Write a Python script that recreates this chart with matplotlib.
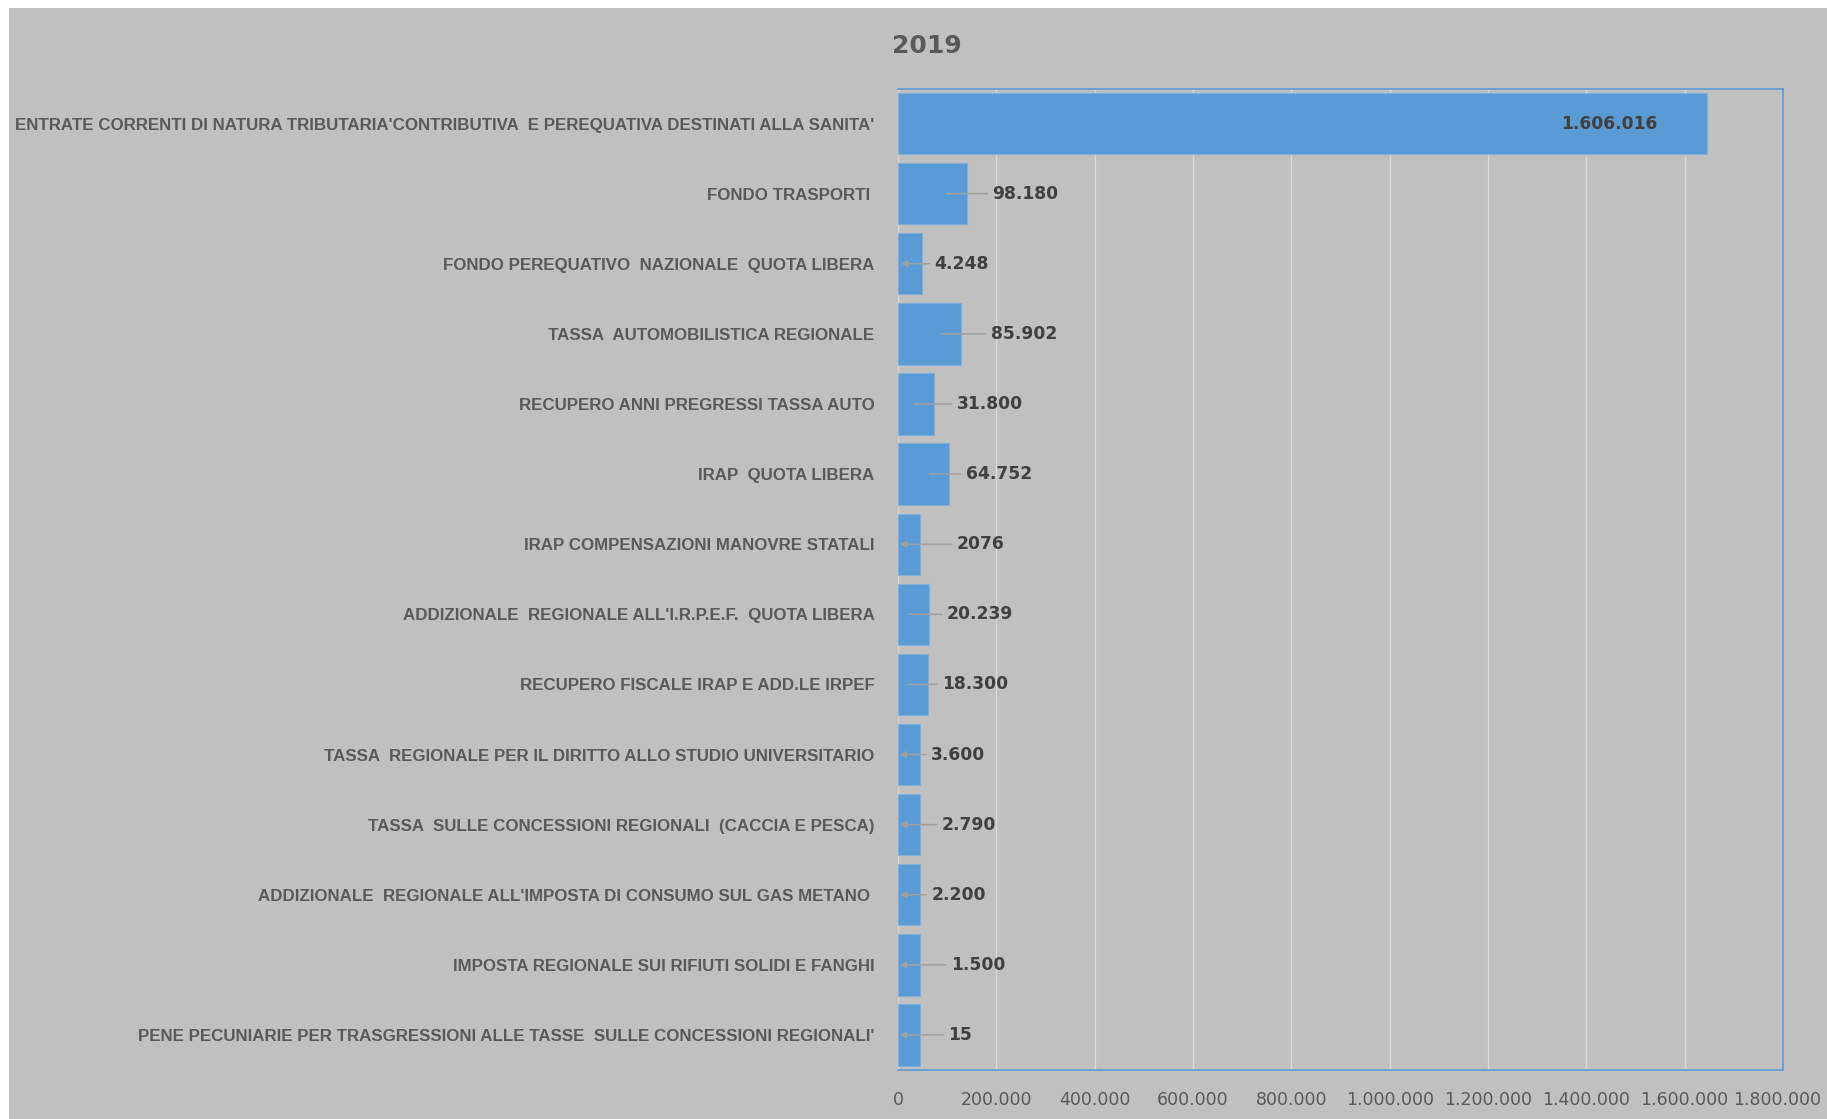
import numpy as np
import matplotlib; matplotlib.use("Agg")
import matplotlib.pyplot as plt
import matplotlib.transforms as mtransforms
from matplotlib.patches import Rectangle

# categorie (dall'alto verso il basso)
categorie = [
    "ENTRATE CORRENTI DI NATURA TRIBUTARIA'CONTRIBUTIVA  E PEREQUATIVA DESTINATI ALLA SANITA'",
    "FONDO TRASPORTI ",
    "FONDO PEREQUATIVO  NAZIONALE  QUOTA LIBERA",
    "TASSA  AUTOMOBILISTICA REGIONALE",
    "RECUPERO ANNI PREGRESSI TASSA AUTO",
    "IRAP  QUOTA LIBERA",
    "IRAP COMPENSAZIONI MANOVRE STATALI",
    "ADDIZIONALE  REGIONALE ALL'I.R.P.E.F.  QUOTA LIBERA",
    "RECUPERO FISCALE IRAP E ADD.LE IRPEF",
    "TASSA  REGIONALE PER IL DIRITTO ALLO STUDIO UNIVERSITARIO",
    "TASSA  SULLE CONCESSIONI REGIONALI  (CACCIA E PESCA)",
    "ADDIZIONALE  REGIONALE ALL'IMPOSTA DI CONSUMO SUL GAS METANO ",
    "IMPOSTA REGIONALE SUI RIFIUTI SOLIDI E FANGHI",
    "PENE PECUNIARIE PER TRASGRESSIONI ALLE TASSE  SULLE CONCESSIONI REGIONALI'",
]
# etichette dei valori come stampate nel grafico
etichette = ["1.606.016", "98.180", "4.248", "85.902", "31.800", "64.752", "2076",
             "20.239", "18.300", "3.600", "2.790", "2.200", "1.500", "15"]
# lunghezza delle barre lette sull'asse (non coincidono con le etichette)
barre = [1645000, 140800, 47800, 127900, 73400, 104400, 45100,
         63300, 60600, 45100, 45100, 45100, 45100, 45100]
xticks = [0, 200000, 400000, 600000, 800000, 1000000, 1200000, 1400000, 1600000, 1800000]
xtick_lab = ["0", "200.000", "400.000", "600.000", "800.000", "1.000.000",
             "1.200.000", "1.400.000", "1.600.000", "1.800.000"]
titolo = "2019"

# distanza (px) tra fine barra e inizio etichetta, come spostate a mano
gap_px = [None, 25, 13, 30, 23, 17, 36, 18, 14, 11, 21, 11, 31, 28]

BLU = "#5B9BD5"; GRIGIO = "#C0C0C0"; TESTO = "#595959"; VAL = "#404040"
LINEA = "#A0A0A0"; GRID = "#D9D9D9"
FAM = ["Liberation Sans Narrow", "Liberation Sans", "DejaVu Sans"]

W, H, DPI = 1827, 1119, 100
fig = plt.figure(figsize=(W / DPI, H / DPI), dpi=DPI, facecolor=GRIGIO)
# strisce bianche a sinistra e in alto
fig.patches.append(Rectangle((0, 0), 9 / W, 1, transform=fig.transFigure,
                             facecolor="white", edgecolor="none", zorder=-1))
fig.patches.append(Rectangle((0, 1 - 8 / H), 1, 8 / H, transform=fig.transFigure,
                             facecolor="white", edgecolor="none", zorder=-1))

ax = fig.add_axes([898 / W, 1 - 1070 / H, (1783 - 898) / W, (1070 - 88.5) / H])
ax.set_facecolor(GRIGIO)
y = np.arange(len(categorie))
ax.barh(y, barre, height=0.875, color=BLU, edgecolor="#7DAFDF", lw=0.8, zorder=3)
ax.set_xlim(0, 1800000); ax.set_ylim(len(categorie) - 0.5, -0.5)
ax.set_xticks(xticks); ax.set_xticklabels(xtick_lab, fontsize=12.5, color=TESTO)
ax.set_yticks(y); ax.set_yticklabels(categorie, color=TESTO, fontweight="bold", family=FAM)
ax.tick_params(length=0)
ax.tick_params(axis="x", pad=15)
ax.tick_params(axis="y", pad=17)
ax.grid(axis="x", color=GRID, lw=1, zorder=1); ax.set_axisbelow(True)
for sp in ("top", "right", "bottom"):
    ax.spines[sp].set_color(BLU); ax.spines[sp].set_linewidth(1.2)
ax.spines["left"].set_color(GRID)

# ultima etichetta spostata appena a sinistra per stare nella figura
lab = ax.get_xticklabels()[-1]
lab.set_transform(lab.get_transform() + mtransforms.ScaledTranslation(-6 / DPI, 0, fig.dpi_scale_trans))

# adatta la dimensione del testo delle categorie alla larghezza della più lunga (~855 px)
fig.canvas.draw()
r = fig.canvas.get_renderer()
fs0 = ax.get_yticklabels()[0].get_fontsize()
wmax = max(t.get_window_extent(r).width for t in ax.get_yticklabels())
for t in ax.get_yticklabels():
    t.set_fontsize(fs0 * 855 / wmax)

px = lambda d: mtransforms.offset_copy(ax.transData, fig, x=d, units="dots")
for i, (b, s, g) in enumerate(zip(barre, etichette, gap_px)):
    if g is None:
        ax.text(b, i, s, transform=px(-49), ha="right", va="center", fontsize=12.3,
                fontweight="bold", color=VAL, zorder=5)
        continue
    ax.text(b, i, s, transform=px(g), ha="left", va="center", fontsize=12.3,
            fontweight="bold", color=VAL, zorder=5)
    head = "-|>,head_length=0.35,head_width=0.2" if b < 50000 else "-"
    ax.annotate("", xy=(b, i), xycoords=px(-20), xytext=(b, i), textcoords=px(g - 5),
                arrowprops=dict(arrowstyle=head, color=LINEA, lw=1.1, shrinkA=0, shrinkB=0),
                zorder=4)

fig.text(927 / W, 1 - 46 / H, titolo, ha="center", va="center", fontsize=18,
         fontweight="bold", color=TESTO)
fig.savefig("out.png", dpi=DPI, facecolor=GRIGIO)
